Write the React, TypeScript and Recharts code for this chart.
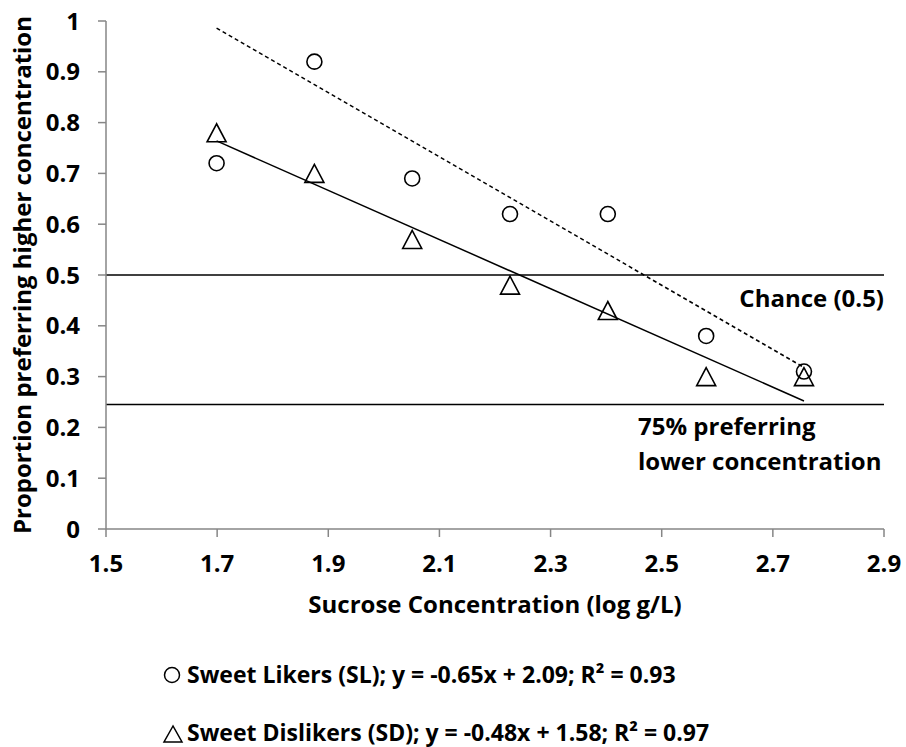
import React from 'react';
import { ScatterChart, Scatter, XAxis, YAxis, ReferenceLine, Label } from 'recharts';

// ---- data ----
const xTicks = [1.5, 1.7, 1.9, 2.1, 2.3, 2.5, 2.7, 2.9];
const yTicks = [0, 0.1, 0.2, 0.3, 0.4, 0.5, 0.6, 0.7, 0.8, 0.9, 1];
const concentrations = [1.699, 1.875, 2.051, 2.227, 2.403, 2.58, 2.756];
const sweetLikers = [0.72, 0.92, 0.69, 0.62, 0.62, 0.38, 0.31];
const sweetDislikers = [0.78, 0.7, 0.57, 0.48, 0.43, 0.3, 0.3];
const slTrendX = [1.699, 2.756];
const slTrendY = [0.986, 0.318];
const sdTrendX = [1.699, 2.756];
const sdTrendY = [0.764, 0.252];
const chanceLevel = 0.5;
const lowerLevel = 0.245;
const chanceText = 'Chance (0.5)';
const lowerText = ['75% preferring', 'lower concentration'];
const xTitle = 'Sucrose Concentration (log g/L)';
const yTitle = 'Proportion preferring higher concentration';
const legendSL = 'Sweet Likers (SL); y = -0.65x + 2.09; R² = 0.93';
const legendSD = 'Sweet Dislikers (SD); y = -0.48x + 1.58; R² = 0.97';

const slData = concentrations.map((x, i) => ({ x, y: sweetLikers[i] }));
const sdData = concentrations.map((x, i) => ({ x, y: sweetDislikers[i] }));
const slTrend = slTrendX.map((x, i) => ({ x, y: slTrendY[i] }));
const sdTrend = sdTrendX.map((x, i) => ({ x, y: sdTrendY[i] }));

const FONT = '"Open Sans", Lato, sans-serif';
const FS = 24;
const AXIS = '#868686';

const CircleShape = (p: any) => (
  <circle cx={p.cx} cy={p.cy} r={7.5} fill="none" stroke="#000" strokeWidth={1.6} />
);
const TriangleShape = (p: any) => (
  <polygon
    points={`${p.cx},${p.cy - 9} ${p.cx - 9.5},${p.cy + 9} ${p.cx + 9.5},${p.cy + 9}`}
    fill="none"
    stroke="#000"
    strokeWidth={1.6}
  />
);
const NoShape = () => <g />;

const fmtY = (v: number) => String(v);
const fmtX = (v: number) => v.toFixed(1);

const textProps = { fontSize: FS, fontWeight: 700, fontFamily: FONT, fill: '#000' };

export default function App() {
  return (
    <div style={{ position: 'absolute', left: 0, top: 0, width: 906, height: 747, background: '#fff', overflow: 'hidden' }}>
      <ScatterChart width={906} height={747} margin={{ top: 21, right: 22, left: 0, bottom: 0 }}>
        <XAxis
          type="number"
          dataKey="x"
          domain={[1.5, 2.9]}
          ticks={xTicks}
          interval={0}
          tickFormatter={fmtX}
          height={218}
          axisLine={{ stroke: AXIS, strokeWidth: 1.5 }}
          tickLine={{ stroke: AXIS, strokeWidth: 1.5 }}
          tickSize={8}
          tickMargin={18}
          tick={{ ...textProps }}
          allowDataOverflow
        >
          <Label
            content={(props: any) => {
              const vb = props.viewBox;
              return (
                <text x={vb.x + vb.width / 2} y={vb.y + 84} textAnchor="middle" {...textProps}>
                  {xTitle}
                </text>
              );
            }}
          />
        </XAxis>
        <YAxis
          type="number"
          dataKey="y"
          domain={[0, 1]}
          ticks={yTicks}
          interval={0}
          tickFormatter={fmtY}
          width={106}
          axisLine={{ stroke: AXIS, strokeWidth: 1.5 }}
          tickLine={{ stroke: AXIS, strokeWidth: 1.5 }}
          tickSize={8}
          tickMargin={18}
          tick={{ ...textProps }}
          allowDataOverflow
        >
          <Label
            content={(props: any) => {
              const vb = props.viewBox;
              const cx = vb.x + 31;
              const cy = vb.y + vb.height / 2;
              return (
                <text x={cx} y={cy} transform={`rotate(-90 ${cx} ${cy})`} textAnchor="middle" {...textProps}>
                  {yTitle}
                </text>
              );
            }}
          />
        </YAxis>
        <ReferenceLine y={chanceLevel} stroke="#000" strokeWidth={1.5}>
          <Label
            content={(props: any) => {
              const vb = props.viewBox;
              return (
                <text x={vb.x + vb.width} y={vb.y + 32} textAnchor="end" {...textProps}>
                  {chanceText}
                </text>
              );
            }}
          />
        </ReferenceLine>
        <ReferenceLine y={lowerLevel} stroke="#000" strokeWidth={1.5}>
          <Label
            content={(props: any) => {
              const vb = props.viewBox;
              const x = vb.x + vb.width - 246;
              return (
                <text x={x} y={vb.y} {...textProps}>
                  <tspan x={x} dy={30}>{lowerText[0]}</tspan>
                  <tspan x={x} dy={35}>{lowerText[1]}</tspan>
                </text>
              );
            }}
          />
        </ReferenceLine>
        <Scatter data={slTrend} shape={NoShape} line={{ stroke: '#000', strokeWidth: 1.5, strokeDasharray: '4 3' }} isAnimationActive={false} legendType="none" />
        <Scatter data={sdTrend} shape={NoShape} line={{ stroke: '#000', strokeWidth: 1.5 }} isAnimationActive={false} legendType="none" />
        <Scatter data={slData} shape={CircleShape} isAnimationActive={false} />
        <Scatter data={sdData} shape={TriangleShape} isAnimationActive={false} />
      </ScatterChart>
      <svg width={906} height={747} style={{ position: 'absolute', left: 0, top: 0, pointerEvents: 'none' }}>
        <circle cx={172} cy={675} r={7.5} fill="none" stroke="#000" strokeWidth={1.5} />
        <text x={187} y={683} {...textProps} fontSize={23}>{legendSL}</text>
        <polygon points="173,726 164,742 182,742" fill="none" stroke="#000" strokeWidth={1.5} />
        <text x={187} y={741} {...textProps} fontSize={23}>{legendSD}</text>
      </svg>
    </div>
  );
}
